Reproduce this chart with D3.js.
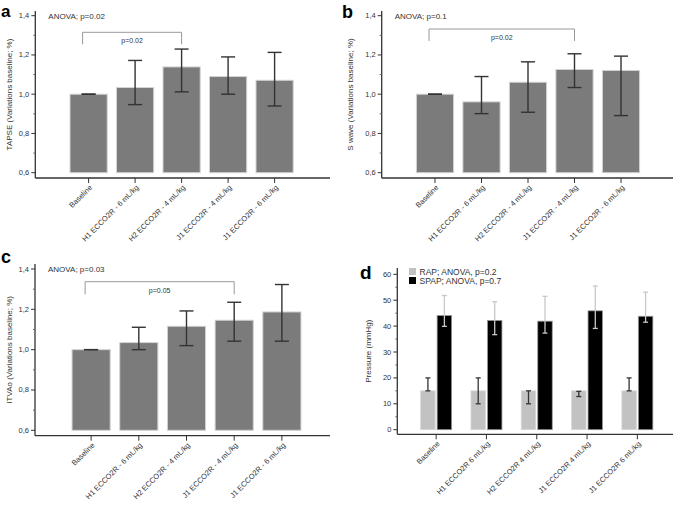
<!DOCTYPE html>
<html>
<head>
<meta charset="utf-8">
<script src="https://cdn.jsdelivr.net/npm/d3@7"></script>
<style>
  body { margin: 0; background: #fff; }
  svg text { font-family: 'Liberation Sans', Arial, sans-serif; fill: #333; }
</style>
</head>
<body>
<div id="chart"></div>
<script>
// categories
const catsABC = ['Baseline', 'H1 ECCO2R - 6 mL/kg', 'H2 ECCO2R - 4 mL/kg', 'J1 ECCO2R - 4 mL/kg', 'J1 ECCO2R - 6 mL/kg']
const catsD = ['Baseline', 'H1 ECCO2R 6 mL/kg', 'H2 ECCO2R 4 mL/kg', 'J1 ECCO2R 4 mL/kg', 'J1 ECCO2R 6 mL/kg']

// panel a - TAPSE
const tapseMean = [1.0, 1.034, 1.139, 1.09, 1.071]
const tapseLow = [1.0, 0.947, 1.012, 1.0, 0.94]
const tapseHigh = [1.0, 1.172, 1.23, 1.19, 1.213]

// panel b - S wave
const swaveMean = [1.0, 0.961, 1.061, 1.126, 1.121]
const swaveLow = [1.0, 0.901, 0.908, 1.034, 0.891]
const swaveHigh = [1.0, 1.09, 1.165, 1.206, 1.194]

// panel c - ITVAo
const itvaoMean = [1.0, 1.035, 1.116, 1.146, 1.187]
const itvaoLow = [1.0, 1.0, 1.02, 1.042, 1.042]
const itvaoHigh = [1.0, 1.111, 1.192, 1.235, 1.323]

// panel d - pressures
const rapMean = [15, 15, 15, 15, 15]
const rapLow = [15, 10, 10, 12.8, 15]
const rapHigh = [20, 20, 15, 14.8, 20]
const spapMean = [44.1, 42.2, 41.9, 45.9, 43.8]
const spapLow = [39.9, 36.7, 37.3, 39.1, 41.5]
const spapHigh = [51.8, 49.4, 51.5, 55.5, 53.1]

const ratioTicks = [0.6, 0.8, 1.0, 1.2, 1.4]
const ratioMinor = [0.7, 0.9, 1.1, 1.3]
const pressureTicks = [0, 10, 20, 30, 40, 50, 60]
const pressureMinor = [5, 15, 25, 35, 45, 55]

const width = 685, height = 506
const svg = d3.select('#chart').append('svg')
  .attr('width', width).attr('height', height)

const fmt = (d) => d3.format('.1f')(d).replace('.', ',')

function drawAxes(g, o, y, ticks, minor, tickFmt, labels, xc) {
  // y axis line
  g.append('line').attr('x1', o.ax).attr('x2', o.ax).attr('y1', o.top).attr('y2', o.bottom)
    .attr('stroke', '#333').attr('stroke-width', 1.3)
  g.append('line').attr('x1', o.ax).attr('x2', o.right).attr('y1', o.bottom).attr('y2', o.bottom)
    .attr('stroke', '#333').attr('stroke-width', 1.3)
  g.selectAll('.ytick').data(ticks).enter().append('line')
    .attr('x1', o.ax - 4).attr('x2', o.ax).attr('y1', (d) => y(d)).attr('y2', (d) => y(d))
    .attr('stroke', '#333')
  g.selectAll('.ymin').data(minor).enter().append('line')
    .attr('x1', o.ax - 2).attr('x2', o.ax).attr('y1', (d) => y(d)).attr('y2', (d) => y(d))
    .attr('stroke', '#666')
  g.selectAll('.ylab').data(ticks).enter().append('text')
    .attr('x', o.ax - 6).attr('y', (d) => y(d) + 2.5)
    .attr('text-anchor', 'end').attr('font-size', 7.5)
    .text(tickFmt)
  // x ticks and labels
  g.selectAll('.xtick').data(labels).enter().append('line')
    .attr('x1', (d) => xc(d)).attr('x2', (d) => xc(d))
    .attr('y1', o.bottom).attr('y2', o.bottom + 5)
    .attr('stroke', '#333')
  g.selectAll('.xlab').data(labels).enter().append('text')
    .attr('text-anchor', 'end').attr('font-size', 7.5)
    .attr('transform', (d) => `translate(${xc(d) + 4},${o.bottom + 10}) rotate(-45)`)
    .text((d) => d)
  // y title
  g.append('text').attr('text-anchor', 'middle').attr('font-size', 8)
    .attr('transform', `translate(${o.titleX},${(o.top + o.bottom) / 2}) rotate(-90)`)
    .text(o.yTitle)
  // panel letter
  g.append('text').attr('x', o.letterX).attr('y', o.letterY)
    .attr('font-size', o.letterSize).attr('font-weight', 'bold').style('fill', '#000')
    .text(o.letter)
}

function ratioPanel(o, mean, low, high) {
  let g = svg.append('g')
  let y = d3.scaleLinear().domain([0.6, 1.4]).range([o.y06, o.y14])
  let x = d3.scaleBand().domain(catsABC).range([o.x0, o.x1]).padding(0.2)
  let rows = catsABC.map((c, i) => ({ c: c, m: mean[i], lo: low[i], hi: high[i] }))

  g.selectAll('.bar').data(rows).enter().append('rect')
    .attr('x', (d) => x(d.c)).attr('width', x.bandwidth())
    .attr('y', (d) => y(d.m)).attr('height', (d) => y(0.6) - y(d.m))
    .attr('fill', '#7b7b7b').attr('stroke', '#d4d4d4').attr('stroke-width', 1)

  let cx = (c) => x(c) + x.bandwidth() / 2
  let err = g.selectAll('.err').data(rows).enter().append('g')
  err.append('line').attr('x1', (d) => cx(d.c)).attr('x2', (d) => cx(d.c))
    .attr('y1', (d) => y(d.lo)).attr('y2', (d) => y(d.hi))
    .attr('stroke', '#333').attr('stroke-width', 1.4)
  err.append('line').attr('x1', (d) => cx(d.c) - 7).attr('x2', (d) => cx(d.c) + 7)
    .attr('y1', (d) => y(d.hi)).attr('y2', (d) => y(d.hi))
    .attr('stroke', '#333').attr('stroke-width', 1.4)
  err.append('line').attr('x1', (d) => cx(d.c) - 7).attr('x2', (d) => cx(d.c) + 7)
    .attr('y1', (d) => y(d.lo)).attr('y2', (d) => y(d.lo))
    .attr('stroke', '#333').attr('stroke-width', 1.4)

  drawAxes(g, o, y, ratioTicks, ratioMinor, fmt, catsABC, cx)

  // significance bracket
  let bx1 = cx(catsABC[0]) - 6, bx2 = cx(catsABC[o.sigTo])
  g.append('path')
    .attr('d', `M${bx1},${o.brBot}V${o.brTop}H${bx2}V${o.brBot}`)
    .attr('fill', 'none').attr('stroke', '#999').attr('stroke-width', 1)
  g.append('text').attr('x', (bx1 + bx2) / 2).attr('y', o.brTop + 11)
    .attr('text-anchor', 'middle').attr('font-size', 7).text(o.sigText)
  g.append('text').attr('x', o.ax + 13).attr('y', o.y14 + 3)
    .attr('font-size', 8).text(o.anova)
}

ratioPanel({ ax: 35.3, top: 11, bottom: 178, right: 330, y06: 172.7, y14: 15.7,
  x0: 60.7, x1: 302.5, titleX: 12, yTitle: 'TAPSE (Variations baseline; %)',
  letter: 'a', letterX: 1, letterY: 16.5, letterSize: 17, sigTo: 2, sigText: 'p=0.02',
  brTop: 32.3, brBot: 44.3, anova: 'ANOVA; p=0.02' }, tapseMean, tapseLow, tapseHigh)

ratioPanel({ ax: 381.7, top: 11, bottom: 178, right: 673, y06: 172.7, y14: 15.7,
  x0: 407.1, x1: 648.9, titleX: 353, yTitle: 'S wave (Variations baseline; %)',
  letter: 'b', letterX: 342, letterY: 17.5, letterSize: 18, sigTo: 3, sigText: 'p=0.02',
  brTop: 29, brBot: 41, anova: 'ANOVA; p=0.1' }, swaveMean, swaveLow, swaveHigh)

ratioPanel({ ax: 35, top: 264, bottom: 435.7, right: 330, y06: 430.3, y14: 269,
  x0: 62.5, x1: 310.5, titleX: 12, yTitle: 'ITVAo (Variations baseline; %)',
  letter: 'c', letterX: 1, letterY: 263, letterSize: 18, sigTo: 3, sigText: 'p=0.05',
  brTop: 281.7, brBot: 294.3, anova: 'ANOVA; p=0.03' }, itvaoMean, itvaoLow, itvaoHigh)

// panel d
;(function() {
  let o = { ax: 397.3, top: 268, bottom: 434.3, right: 673, titleX: 371,
    yTitle: 'Pressure (mmHg)', letter: 'd', letterX: 360, letterY: 279, letterSize: 19 }
  let g = svg.append('g')
  let y = d3.scaleLinear().domain([0, 60]).range([429.7, 274.3])
  let x = d3.scaleBand().domain(catsD).range([411, 662.5]).padding(0)
  let sub = d3.scaleBand().domain(['RAP', 'SPAP'])
    .range([x.bandwidth() / 2 - 15.5, x.bandwidth() / 2 + 15.5]).paddingInner(0.12)
  let series = [
    { key: 'RAP', mean: rapMean, low: rapLow, high: rapHigh, fill: '#c2c2c2', stroke: '#d8d8d8', err: '#333', label: 'RAP; ANOVA, p=0.2' },
    { key: 'SPAP', mean: spapMean, low: spapLow, high: spapHigh, fill: '#000', stroke: '#9a9a9a', err: '#c8c8c8', label: 'SPAP; ANOVA, p=0.7' }
  ]
  series.forEach((s) => {
    let rows = catsD.map((c, i) => ({ c: c, m: s.mean[i], lo: s.low[i], hi: s.high[i] }))
    g.selectAll(null).data(rows).enter().append('rect')
      .attr('x', (d) => x(d.c) + sub(s.key)).attr('width', sub.bandwidth())
      .attr('y', (d) => y(d.m)).attr('height', (d) => y(0) - y(d.m))
      .attr('fill', s.fill).attr('stroke', s.stroke).attr('stroke-width', 0.8)
    let cx = (c) => x(c) + sub(s.key) + sub.bandwidth() / 2
    let err = g.selectAll(null).data(rows).enter().append('g')
    err.append('line').attr('x1', (d) => cx(d.c)).attr('x2', (d) => cx(d.c))
      .attr('y1', (d) => y(d.lo)).attr('y2', (d) => y(d.hi))
      .attr('stroke', s.err).attr('stroke-width', 1.3)
    ;['lo', 'hi'].forEach((k) => {
      err.append('line').attr('x1', (d) => cx(d.c) - 2.5).attr('x2', (d) => cx(d.c) + 2.5)
        .attr('y1', (d) => y(d[k])).attr('y2', (d) => y(d[k]))
        .attr('stroke', s.err).attr('stroke-width', 1.3)
    })
  })

  drawAxes(g, o, y, pressureTicks, pressureMinor, (d) => d, catsD, (c) => x(c) + x.bandwidth() / 2)

  let legend = g.selectAll('.leg').data(series).enter().append('g')
    .attr('transform', (d, i) => `translate(409,${268 + i * 9})`)
  legend.append('rect').attr('width', 7).attr('height', 7)
    .attr('fill', (d) => d.fill)
  legend.append('text').attr('x', 10.5).attr('y', 6.5).attr('font-size', 8.5)
    .text((d) => d.label)
})()
</script>
</body>
</html>
